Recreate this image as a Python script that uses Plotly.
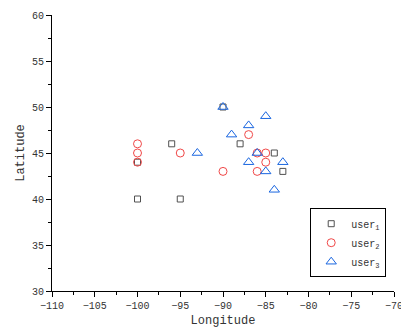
import plotly.graph_objects as go

user1_lon = [-100, -95, -96, -88, -84, -83, -100, -90]
user1_lat = [40, 40, 46, 46, 45, 43, 44, 50]

user2_lon = [-100, -100, -100, -95, -87, -90, -86, -85, -85, -86]
user2_lat = [46, 45, 44, 45, 47, 43, 45, 45, 44, 43]

user3_lon = [-90, -85, -87, -89, -93, -86, -87, -83, -85, -84]
user3_lat = [50, 49, 48, 47, 45, 45, 44, 44, 43, 41]

names = ["user<sub>1</sub>", "user<sub>2</sub>", "user<sub>3</sub>"]
font = "Liberation Mono, DejaVu Sans Mono, monospace"

fig = go.Figure()
fig.add_trace(go.Scatter(x=user1_lon, y=user1_lat, mode="markers", name=names[0],
                         marker=dict(symbol="square-open", size=6, color="#505050", line=dict(width=1))))
fig.add_trace(go.Scatter(x=user2_lon, y=user2_lat, mode="markers", name=names[1],
                         marker=dict(symbol="circle-open", size=8, color="#f04848", line=dict(width=1))))
fig.add_trace(go.Scatter(x=user3_lon, y=user3_lat, mode="markers", name=names[2],
                         marker=dict(symbol="triangle-up-open", size=9, color="#1a66e0", line=dict(width=1))))

axis_common = dict(showline=True, linecolor="black", linewidth=1, ticks="outside",
                   ticklen=5, tickcolor="black", showgrid=False, zeroline=False,
                   tickfont=dict(family=font, size=10, color="#333"), mirror=False,
                   ticklabeloverflow="allow", automargin=False)

fig.update_xaxes(range=[-110, -70], dtick=5,
                 title=dict(text="Longitude", font=dict(family=font, size=12, color="#333"), standoff=4),
                 minor=dict(ticks="outside", dtick=2.5, ticklen=3, tickcolor="black"), **axis_common)
fig.update_yaxes(range=[30, 60], dtick=5,
                 title=dict(text="Latitude", font=dict(family=font, size=12, color="#333"), standoff=4),
                 minor=dict(ticks="outside", dtick=2.5, ticklen=3, tickcolor="black"), **axis_common)

fig.update_layout(
    width=401, height=333,
    margin=dict(l=52, r=7, t=15, b=42),
    plot_bgcolor="white", paper_bgcolor="white",
    legend=dict(x=0.755, y=0.05, xanchor="left", yanchor="bottom",
                bordercolor="black", borderwidth=1, bgcolor="white",
                font=dict(family=font, size=10, color="#333"),
                itemwidth=30, tracegroupgap=0),
)
post = """
document.documentElement.style.overflow='hidden';
document.body.style.margin='0';
document.body.style.overflow='hidden';
document.querySelectorAll('.svg-container, .js-plotly-plot').forEach(function(e){e.style.overflow='hidden';});
window.scrollTo(0,0);
"""
fig.write_html("out.html", config={"displayModeBar": False}, post_script=post)
